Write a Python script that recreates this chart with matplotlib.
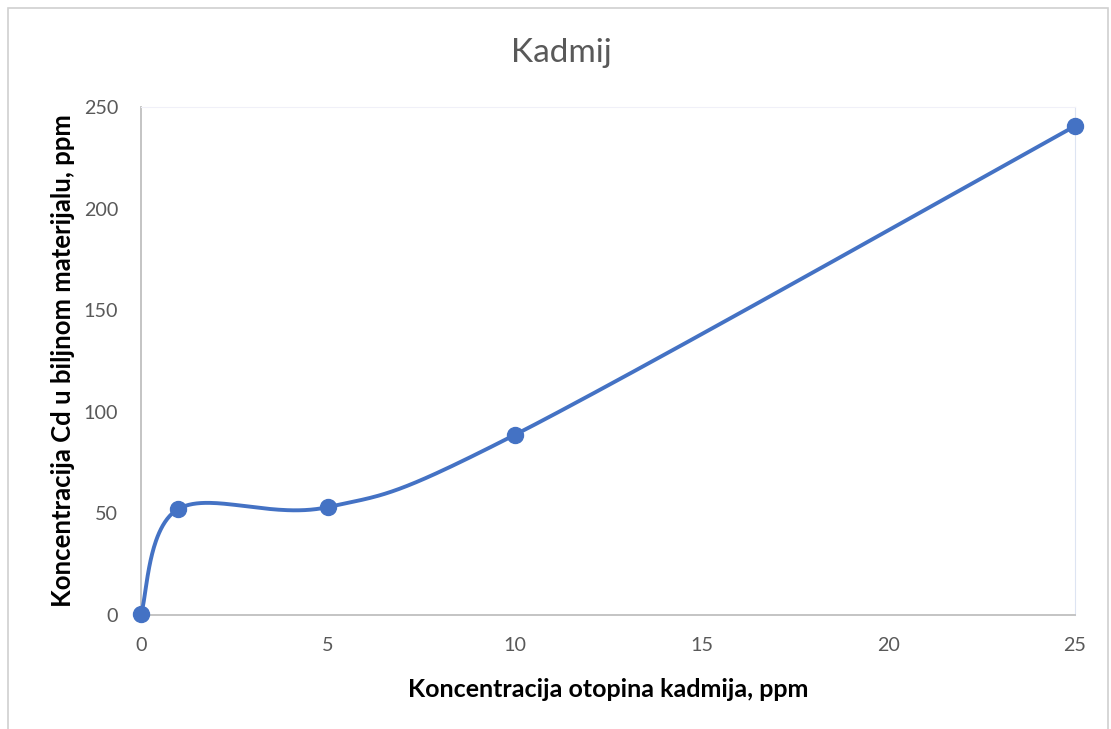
import numpy as np
import matplotlib.pyplot as plt
from matplotlib.patches import Rectangle

plt.rcParams['font.family'] = ['Lato', 'DejaVu Sans']

# data
konc_otopine = [0, 1, 5, 10, 25]
konc_cd = [0.5, 52.2, 53.1, 88.6, 240.6]

x_ticks = [0, 5, 10, 15, 20, 25]
y_ticks = [0, 50, 100, 150, 200, 250]

line_color = '#4472C4'


def smooth_line(xs, ys, steps=60):
    # Excel-style smoothed line: cubic Bezier through points (Catmull-Rom controls)
    p = np.column_stack([xs, ys]).astype(float)
    p = np.vstack([p[0], p, p[-1]])
    out = []
    for i in range(1, len(p) - 2):
        p0, p1, p2, p3 = p[i - 1], p[i], p[i + 1], p[i + 2]
        c1 = p1 + (p2 - p0) / 6
        c2 = p2 - (p3 - p1) / 6
        t = np.linspace(0, 1, steps)[:, None]
        seg = ((1 - t) ** 3) * p1 + 3 * ((1 - t) ** 2) * t * c1 \
            + 3 * (1 - t) * t ** 2 * c2 + t ** 3 * p2
        out.append(seg)
    seg = np.vstack(out)
    return seg[:, 0], seg[:, 1]


fig = plt.figure(figsize=(11.11, 7.29), dpi=100)
fig.patches.append(Rectangle((8 / 1111, -0.05), 1100 / 1111, 1 - 8 / 729 + 0.05,
                             transform=fig.transFigure, fill=False,
                             edgecolor='#d0d0d0', linewidth=1.2))

ax = fig.add_axes([141 / 1111, 1 - 615 / 729, (1075 - 141) / 1111, (615 - 107) / 729])

sx, sy = smooth_line(konc_otopine, konc_cd)
ax.plot(sx, sy, color=line_color, linewidth=2.8, solid_capstyle='round', zorder=3)
ax.plot(konc_otopine, konc_cd, 'o', color=line_color, markersize=11.5, zorder=4, clip_on=False)

ax.set_xlim(0, 25)
ax.set_ylim(0, 250)
ax.set_xticks(x_ticks)
ax.set_yticks(y_ticks)
ax.tick_params(length=0, labelsize=14.2, labelcolor='#595959')
ax.tick_params(axis='x', pad=16)
ax.tick_params(axis='y', pad=16.5)

for side in ['left', 'bottom']:
    ax.spines[side].set_color('#bfbfbf')
    ax.spines[side].set_linewidth(1.3)
ax.spines['top'].set_color('#f0f0f8')
ax.spines['right'].set_color('#dde4f2')

fig.text(0.505, 1 - 53 / 729, 'Kadmij', fontsize=24, color='#595959',
         ha='center', va='center')
ax.set_xlabel('Koncentracija otopina kadmija, ppm', fontsize=18, fontweight='bold',
              color='black', labelpad=17)
ax.set_ylabel('Koncentracija Cd u biljnom materijalu, ppm', fontsize=18.5,
              fontweight='bold', color='black', labelpad=6)

fig.savefig('out.png', dpi=100)
